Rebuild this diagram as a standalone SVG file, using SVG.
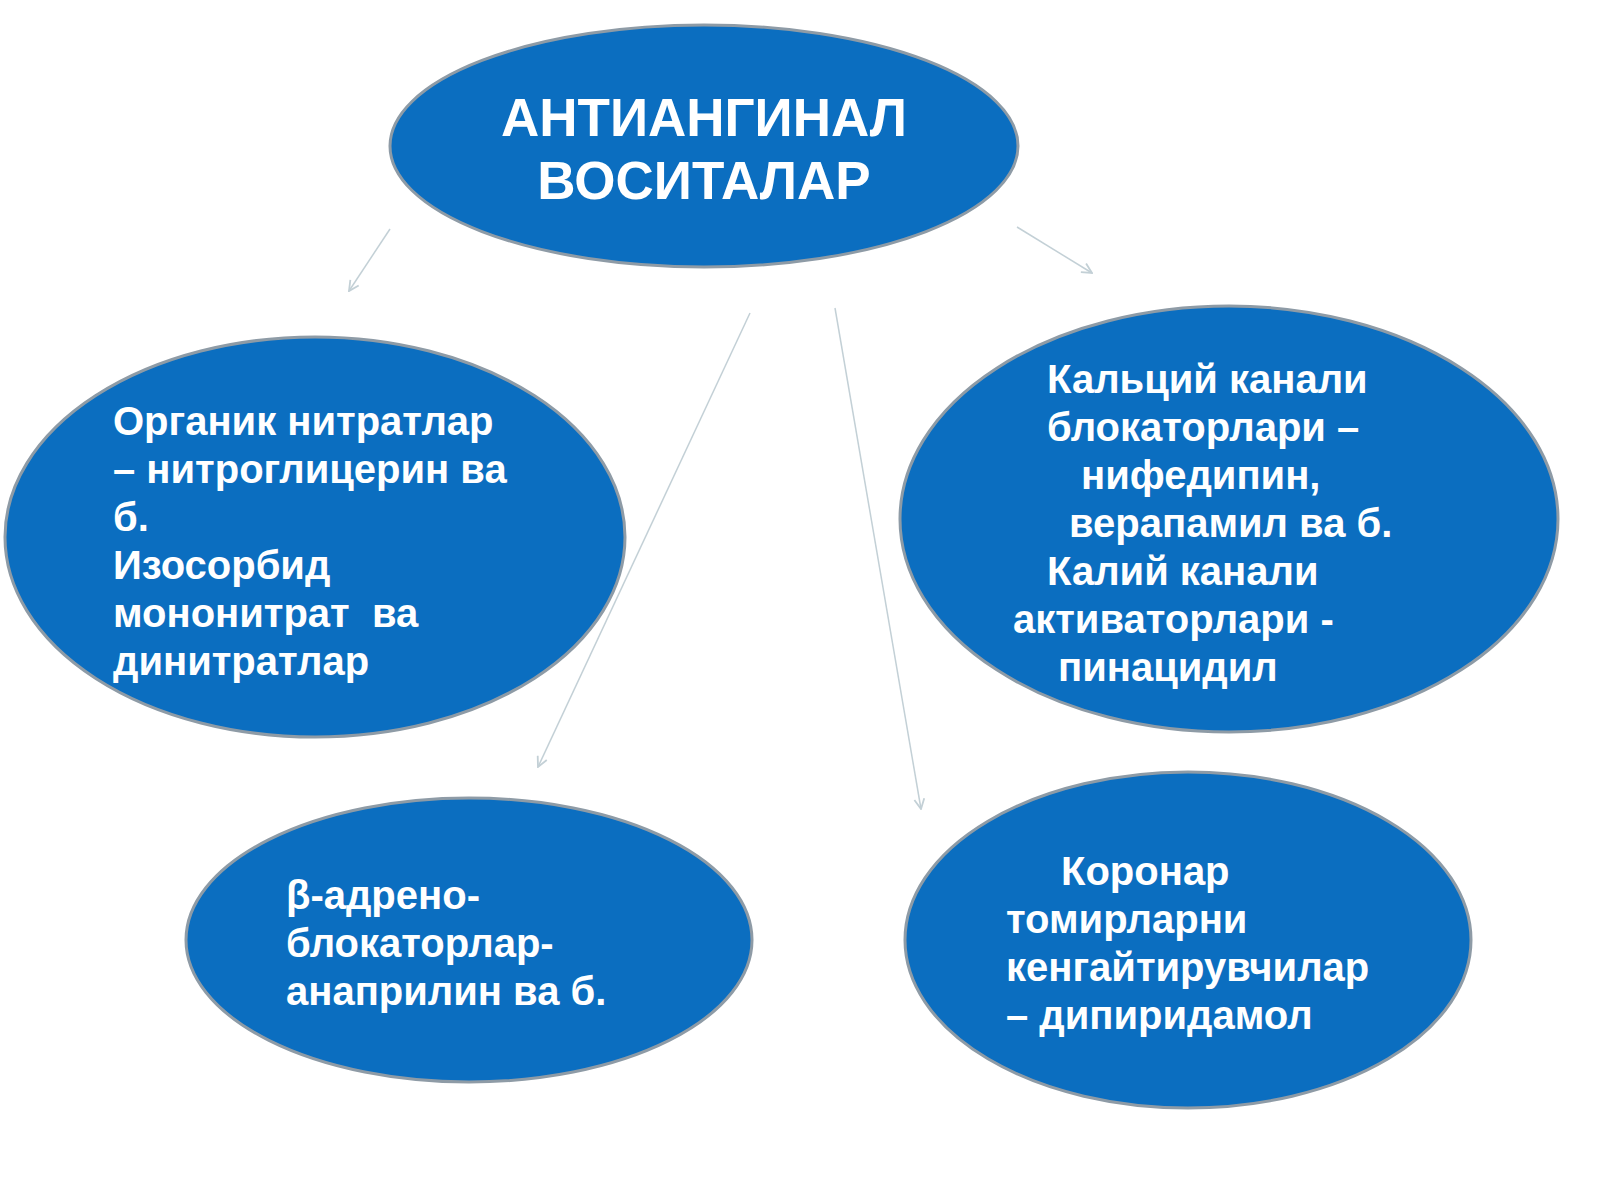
<svg xmlns="http://www.w3.org/2000/svg" width="1600" height="1200" viewBox="0 0 1600 1200">
<style>
.node{fill:#0b6ec0;stroke:#8e9ba6;stroke-width:3}
.t{font-family:"Liberation Sans",Arial,sans-serif;font-weight:bold;fill:#ffffff;font-size:40px}
.title{font-size:53px;text-anchor:middle}
.conn{stroke:#c3d0d6;stroke-width:1.5;fill:none;marker-end:url(#arr)}
</style>
<defs>
<marker id="arr" viewBox="0 0 12 12" refX="11" refY="6" markerWidth="12" markerHeight="12" markerUnits="userSpaceOnUse" orient="auto">
<path d="M1,1 L11,6 L1,11" fill="none" stroke="#c3d0d6" stroke-width="1.8"/>
</marker>
</defs>
<rect width="1600" height="1200" fill="#ffffff"/>
<g id="connectors">
<line class="conn" x1="390" y1="229" x2="349" y2="291"/>
<line class="conn" x1="1017" y1="227" x2="1092" y2="273"/>
<line class="conn" x1="750" y1="313" x2="538" y2="767"/>
<line class="conn" x1="835" y1="308" x2="921" y2="809"/>
</g>
<g id="node-root">
<ellipse class="node" cx="704" cy="146" rx="314" ry="121"/>
<text class="t title" x="704" y="136">АНТИАНГИНАЛ</text>
<text class="t title" x="704" y="199">ВОСИТАЛАР</text>
</g>
<g id="node-nitrates">
<ellipse class="node" cx="315" cy="537" rx="310" ry="200"/>
<text class="t" x="113" y="435">Органик нитратлар</text>
<text class="t" x="113" y="483">– нитроглицерин ва</text>
<text class="t" x="113" y="531">б.</text>
<text class="t" x="113" y="579">Изосорбид</text>
<text class="t" x="113" y="627" xml:space="preserve">мононитрат  ва</text>
<text class="t" x="113" y="675">динитратлар</text>
</g>
<g id="node-channels">
<ellipse class="node" cx="1229" cy="519" rx="329" ry="213"/>
<text class="t" x="1047" y="393">Кальций канали</text>
<text class="t" x="1047" y="441">блокаторлари –</text>
<text class="t" x="1081" y="489">нифедипин,</text>
<text class="t" x="1069" y="537">верапамил ва б.</text>
<text class="t" x="1047" y="585">Калий канали</text>
<text class="t" x="1013" y="633">активаторлари -</text>
<text class="t" x="1058" y="681">пинацидил</text>
</g>
<g id="node-beta">
<ellipse class="node" cx="469" cy="940" rx="283" ry="142"/>
<text class="t" x="286" y="909">β-адрено-</text>
<text class="t" x="286" y="957">блокаторлар-</text>
<text class="t" x="286" y="1005">анаприлин ва б.</text>
</g>
<g id="node-coronary">
<ellipse class="node" cx="1188" cy="940" rx="283" ry="168"/>
<text class="t" x="1061" y="885">Коронар</text>
<text class="t" x="1006" y="933">томирларни</text>
<text class="t" x="1006" y="981">кенгайтирувчилар</text>
<text class="t" x="1006" y="1029">– дипиридамол</text>
</g>
</svg>
